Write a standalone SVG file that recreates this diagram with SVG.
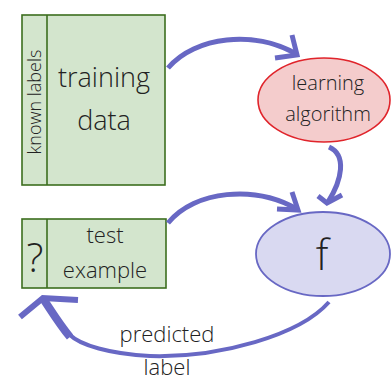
<svg xmlns="http://www.w3.org/2000/svg" width="391" height="381" viewBox="0 0 391 381">
<style>
text{font-family:"Open Sans","Noto Sans","DejaVu Sans",sans-serif;font-weight:300;fill:#222;text-anchor:middle}
.box{fill:#d3e5cd;stroke:#3c6e1f;stroke-width:1.6}
.arr{fill:none;stroke:#6868c4;stroke-linecap:butt;stroke-linejoin:miter}
</style>
<rect width="391" height="381" fill="#fff"/>
<g id="training">
<rect class="box" x="22" y="15" width="143" height="170"/>
<line x1="47" y1="15" x2="47" y2="185" stroke="#3c6e1f" stroke-width="1.6"/>
<text x="104" y="87" font-size="27">training</text>
<text x="104" y="130" font-size="27">data</text>
<text transform="translate(41,102) rotate(-90)" font-size="18">known labels</text>
</g>
<g id="learning">
<ellipse cx="324" cy="100" rx="66" ry="42" fill="#f4cccc" stroke="#e0242b" stroke-width="1.6"/>
<text x="328" y="90" font-size="20">learning</text>
<text x="328" y="121" font-size="20">algorithm</text>
</g>
<g id="test">
<rect class="box" x="22" y="219" width="144" height="69"/>
<line x1="47" y1="219" x2="47" y2="288" stroke="#3c6e1f" stroke-width="1.6"/>
<text x="35" y="272" font-size="40">?</text>
<text x="105" y="243" font-size="22">test</text>
<text x="105" y="278" font-size="22">example</text>
</g>
<g id="f">
<ellipse cx="323" cy="254" rx="67" ry="42" fill="#d9d9f1" stroke="#6868c4" stroke-width="1.8"/>
<text x="322" y="270" font-size="42">f</text>
</g>
<g id="connectors">
<path class="arr" stroke-width="5" d="M168,68 C195,36 255,30 296,54"/>
<polyline class="arr" stroke-width="5" points="292,35 297,55 275,58"/>
<path class="arr" stroke-width="5" d="M329,147 C347,155 342,180 328,202"/>
<polyline class="arr" stroke-width="5" points="318,196 327,203 342,195"/>
<path class="arr" stroke-width="5" d="M168,223 C195,190 255,185 297,209"/>
<polyline class="arr" stroke-width="5" points="292,192 298,210 277,209"/>
<path class="arr" stroke-width="4" d="M329,302 C300,335 220,358 150,356 C110,354 80,345 70,335"/>
<path class="arr" stroke-width="8" d="M70,337 C60,325 52,312 44,300"/>
<polyline class="arr" stroke-width="6" points="20,317 43,298 78,300"/>
</g>
<text x="167" y="342" font-size="22">predicted</text>
<text x="167" y="375" font-size="22">label</text>
</svg>
